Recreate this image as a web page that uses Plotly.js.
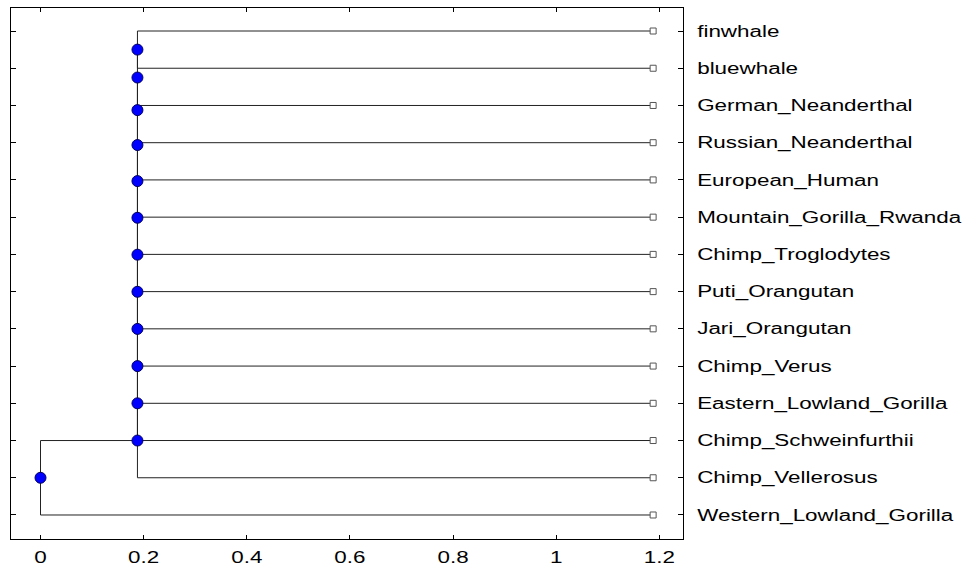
<!DOCTYPE html>
<html>
<head>
<meta charset="utf-8">
<script src="https://cdn.plot.ly/plotly-3.0.1.min.js"></script>
<style>html,body{margin:0;padding:0;background:#fff;}#plot{width:967px;height:570px;}</style>
</head>
<body>
<div id="plot"></div>
<script>
// Leaf names, top to bottom
const leafNames = [
  'finwhale', 'bluewhale', 'German_Neanderthal', 'Russian_Neanderthal',
  'European_Human', 'Mountain_Gorilla_Rwanda', 'Chimp_Troglodytes',
  'Puti_Orangutan', 'Jari_Orangutan', 'Chimp_Verus', 'Eastern_Lowland_Gorilla',
  'Chimp_Schweinfurthii', 'Chimp_Vellerosus', 'Western_Lowland_Gorilla'
];
// Branch length from each leaf to its parent
const leafBranchLen = [1.0, 1.0, 1.0, 1.0, 1.0, 1.0, 1.0, 1.0, 1.0, 1.0, 1.0, 1.0, 1.0, 1.188];
// Internal nodes (index 14..26); children indices (<14 leaf, >=14 internal)
const nodeChildren = [
  [0, 1], [14, 2], [15, 3], [16, 4], [17, 5], [18, 6], [19, 7],
  [20, 8], [21, 9], [22, 10], [23, 11], [24, 12], [25, 13]
];
// Branch length from each internal node to its parent (last = root)
const nodeBranchLen = [0, 0, 0, 0, 0, 0, 0, 0, 0, 0, 0, 0.188, 0];
const xTickVals = [0, 0.2, 0.4, 0.6, 0.8, 1, 1.2];
const xTickText = ['0', '0.2', '0.4', '0.6', '0.8', '1', '1.2'];

const nL = leafNames.length;
const nN = nodeChildren.length;
const total = nL + nN;
const parent = new Array(total).fill(-1);
const blen = leafBranchLen.concat(nodeBranchLen);
nodeChildren.forEach((ch, i) => ch.forEach(c => parent[c] = nL + i));
const rootIdx = total - 1;
// y positions: leaves at rows, internal nodes at mean of children
const ypos = new Array(total);
for (let i = 0; i < nL; i++) ypos[i] = i + 1;
for (let i = 0; i < nN; i++) {
  const ch = nodeChildren[i];
  ypos[nL + i] = ch.reduce((s, c) => s + ypos[c], 0) / ch.length;
}
// x positions: cumulative branch length from root
const xpos = new Array(total);
xpos[rootIdx] = 0;
function getX(i) {
  if (xpos[i] !== undefined) return xpos[i];
  xpos[i] = getX(parent[i]) + blen[i];
  return xpos[i];
}
for (let i = 0; i < total; i++) getX(i);

const lx = [], ly = [];
for (let i = 0; i < total; i++) {
  if (i === rootIdx) continue;
  lx.push(xpos[parent[i]], xpos[i], null);
  ly.push(ypos[i], ypos[i], null);
}
for (let i = 0; i < nN; i++) {
  const ch = nodeChildren[i];
  const ys = ch.map(c => ypos[c]);
  lx.push(xpos[nL + i], xpos[nL + i], null);
  ly.push(Math.min(...ys), Math.max(...ys), null);
}

const traces = [
  {x: lx, y: ly, mode: 'lines', type: 'scatter', line: {color: '#222', width: 1}, hoverinfo: 'skip'},
  {x: xpos.slice(0, nL), y: ypos.slice(0, nL), mode: 'markers', type: 'scatter',
   marker: {symbol: 'square', size: 6, color: '#fff', line: {color: '#555', width: 1}}},
  {x: xpos.slice(nL), y: ypos.slice(nL), mode: 'markers', type: 'scatter',
   marker: {symbol: 'circle', size: 11, color: '#0000ff', line: {color: '#000060', width: 1}}}
];

const layout = {
  width: 967, height: 570,
  margin: {l: 11, r: 284, t: 8, b: 31, pad: 0},
  paper_bgcolor: '#fff', plot_bgcolor: '#fff',
  showlegend: false,
  font: {family: 'Liberation Sans, Arial, sans-serif', size: 16, color: '#000'},
  xaxis: {
    range: [-0.0572, 1.2459], tickvals: xTickVals, ticktext: xTickText,
    showgrid: false, zeroline: false, showline: true, linecolor: '#000', linewidth: 1,
    mirror: 'ticks', ticks: 'inside', ticklen: 4, tickcolor: '#000',
    ticklabelstandoff: 4,
    tickfont: {size: 16, color: '#000'}
  },
  yaxis: {
    range: [14.645, 0.382], tickvals: ypos.slice(0, nL), ticktext: leafNames,
    side: 'right', showgrid: false, zeroline: false, showline: true, linecolor: '#000', linewidth: 1,
    mirror: 'ticks', ticks: 'inside', ticklen: 5, tickcolor: '#000',
    ticklabelstandoff: 10,
    tickfont: {size: 16, color: '#000'}
  }
};

const STRETCH = 1.4;
Plotly.newPlot('plot', traces, layout, {displayModeBar: false, staticPlot: true}).then(gd => {
  gd.querySelectorAll('.xtick text, .ytick text').forEach(t => {
    const w = t.getComputedTextLength();
    t.setAttribute('textLength', (w * STRETCH).toFixed(1));
    t.setAttribute('lengthAdjust', 'spacingAndGlyphs');
  });
});
</script>
</body>
</html>
